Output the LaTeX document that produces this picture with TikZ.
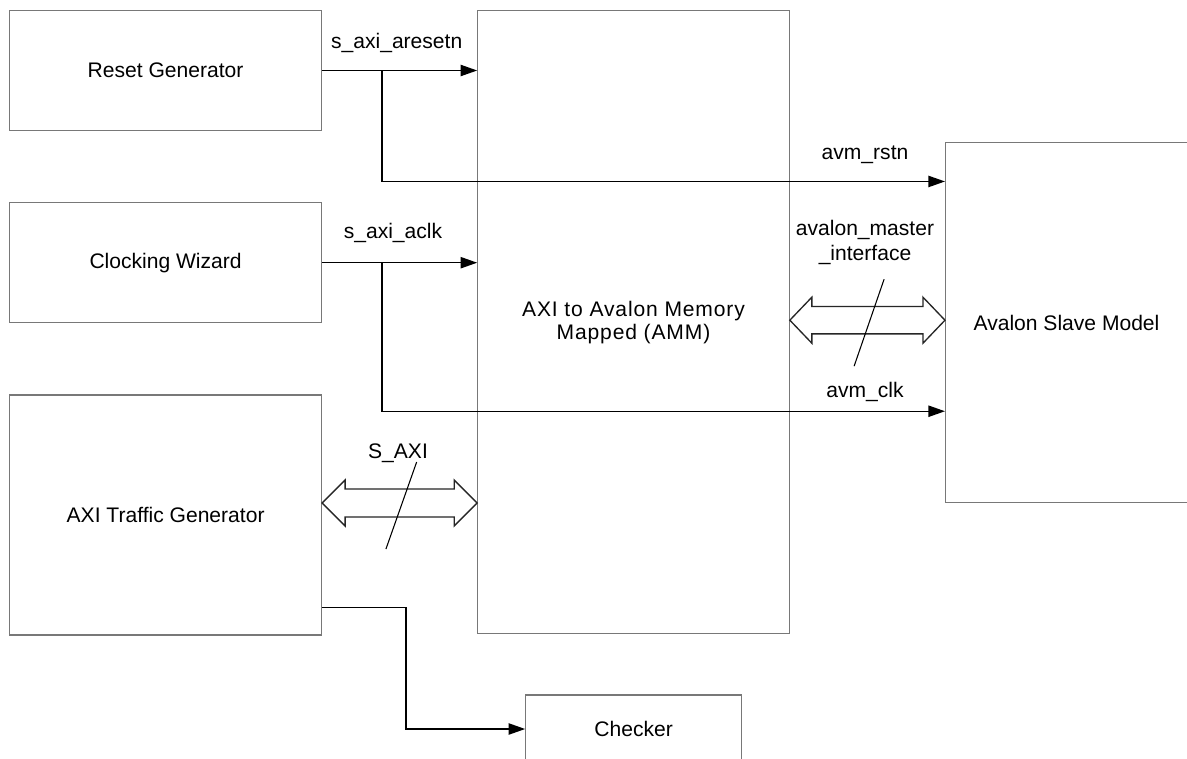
\documentclass[tikz,border=0pt]{standalone}
\usepackage{fontspec}
\setmainfont{Liberation Sans}
\usetikzlibrary{calc,arrows.meta}
\definecolor{boxgray}{RGB}{120,120,120}
\newcommand\busarrow[4]{%
  \draw[bus] (#1) -- ($(#1)+(#4,-23)$) -- ($(#1)+(#4,-#3)$) -- ($(#2)+(-#4,-#3)$)
    -- ($(#2)+(-#4,-23)$) -- (#2) -- ($(#2)+(-#4,23)$) -- ($(#2)+(-#4,#3)$)
    -- ($(#1)+(#4,#3)$) -- ($(#1)+(#4,23)$) -- cycle;}
\begin{document}
\begin{tikzpicture}[x=0.75pt,y=-0.75pt,
  box/.style={draw=boxgray, line width=0.8pt, fill=white, inner sep=0pt, align=center,
    font=\fontsize{15.8}{19}\selectfont},
  wire/.style={line width=1.1pt, draw=black},
  arr/.style={wire, -{Triangle[length=12.5pt,width=8.5pt]}},
  lbl/.style={font=\fontsize{15.8}{18.75}\selectfont, inner sep=0pt, align=center},
  bus/.style={draw=black!85, line width=1pt, fill=white, line join=miter},
  slash/.style={draw=black, line width=0.8pt}]
\clip (0,0) rectangle (1187,759);
\useasboundingbox (0,0) rectangle (1187,759);
\fill[white] (0,0) rectangle (1187,759);
% blocks
\node[box, minimum width=234pt, minimum height=90pt] (rg) at (165.6,70.5) {Reset Generator};
\node[box, minimum width=234pt, minimum height=90pt] (cw) at (165.6,262.7) {Clocking Wizard};
\node[box, minimum width=234pt, minimum height=180pt] (tg) at (165.6,515) {AXI Traffic Generator};
\node[box, minimum width=233.7pt, minimum height=467.3pt,
  font=\fontsize{15.8}{17.3}\selectfont\addfontfeature{LetterSpace=4}] (amm) at (633.5,322.2)
  {AXI to Avalon Memory\\Mapped (AMM)};
\node[box, minimum width=181.5pt, minimum height=269.7pt] (av) at (1066.5,322.5) {Avalon Slave Model};
\node[box, minimum width=162pt, minimum height=51pt] (ck) at (633.7,729) {Checker};
% reset wires
\draw[arr] (rg.east) -- (rg.east -| amm.west);
\coordinate (j1) at ($(rg.east)+(60,0)$);
\coordinate (r1) at ($(av.north west)+(0,39.3)$);
\draw[arr] (j1) |- (r1);
% clock wires
\draw[arr] (cw.east) -- (cw.east -| amm.west);
\coordinate (j2) at ($(cw.east)+(60,0)$);
\coordinate (c1) at ($(av.south west)+(0,-91.6)$);
\draw[arr] (j2) |- (c1);
% traffic gen to checker
\coordinate (t1) at ($(tg.south east)+(0,-28.3)$);
\draw[arr] (t1) -- ++(84,0) |- (ck.west);
% buses
\coordinate (sL) at ($(tg.east)+(0,-12)$);
\coordinate (sR) at (sL -| amm.west);
\busarrow{sL}{sR}{14}{23}
\draw[slash] ($(sL)!0.5!(sR)+(17,-41)$) -- ($(sL)!0.5!(sR)+(-13.7,46)$);
\coordinate (aL) at ($(amm.east)+(0,-2)$);
\coordinate (aR) at (aL -| av.west);
\busarrow{aL}{aR}{13.7}{22}
\draw[slash] ($(aL)!0.5!(aR)+(16.7,-41)$) -- ($(aL)!0.5!(aR)+(-13.3,46)$);
% labels
\node[lbl] (l1) at (396.7,43) {s\_axi\_aresetn};
\node[lbl] (l2) at (393,233) {s\_axi\_aclk};
\node[lbl] (l3) at (865,155) {avm\_rstn};
\node[lbl] (l4) at (865,392) {avm\_clk};
\node[lbl] (l5) at (865,242.5) {avalon\_master\\\_interface};
\node[lbl] (l6) at (398,453) {S\_AXI};
\end{tikzpicture}
\end{document}
